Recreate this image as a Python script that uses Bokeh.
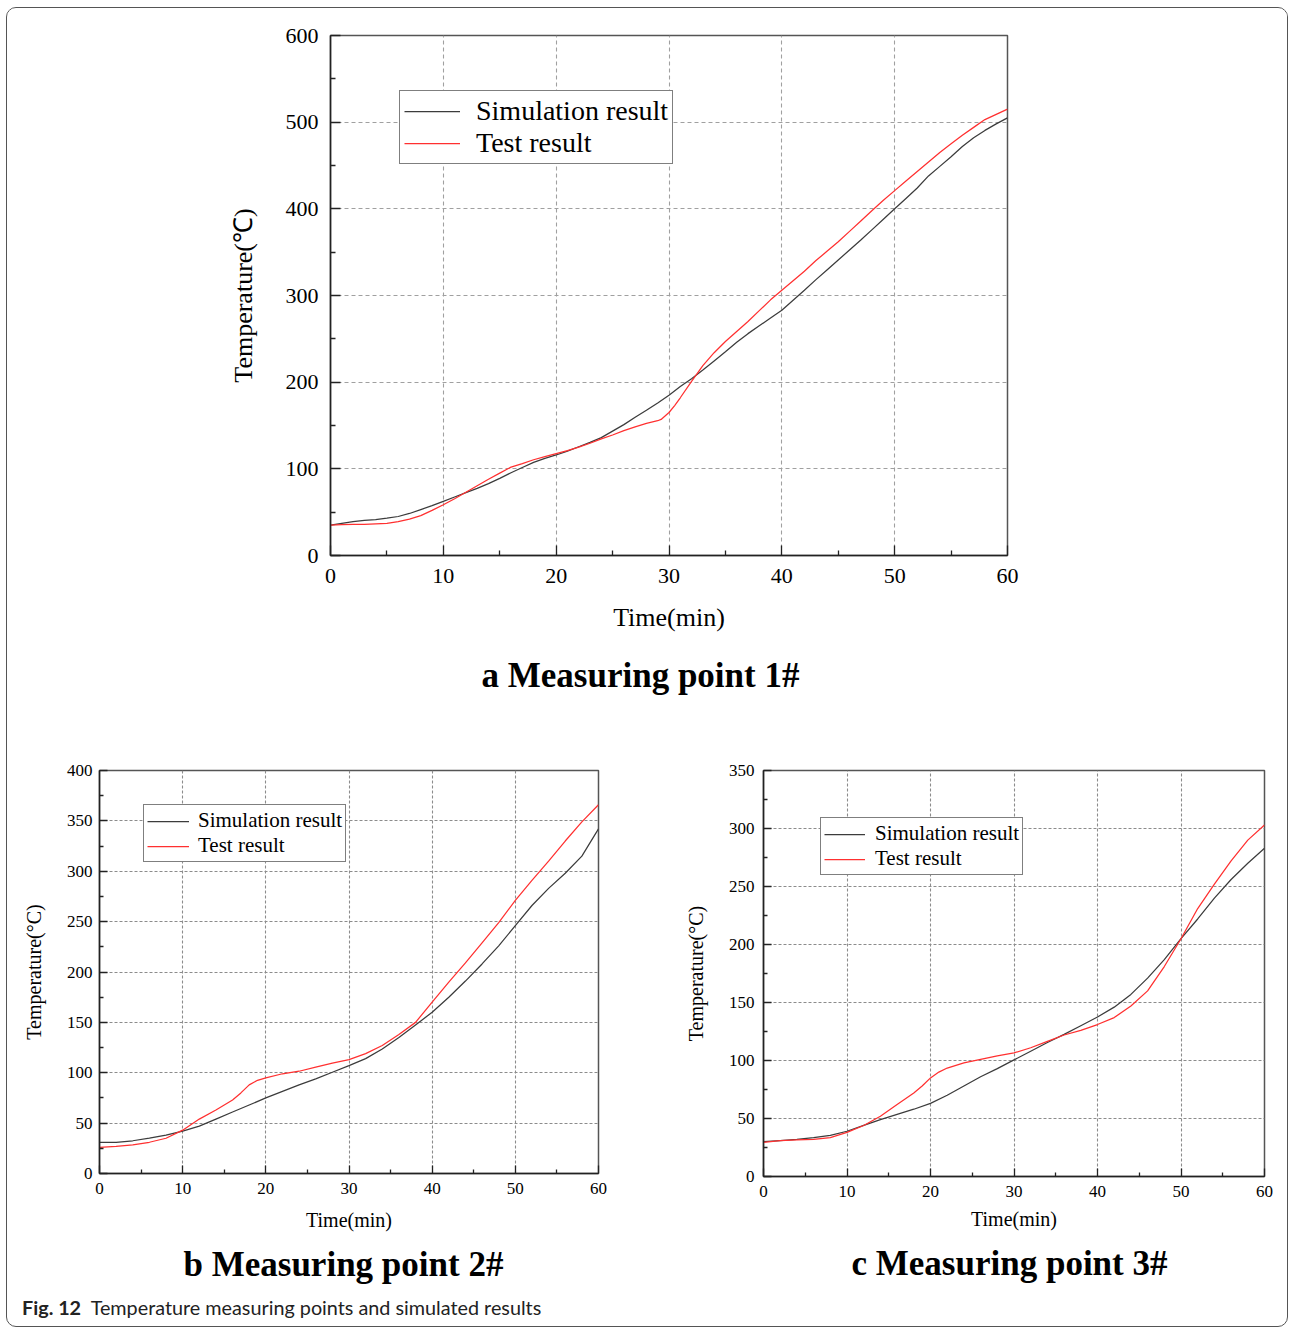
from bokeh.plotting import figure
from bokeh.models import FixedTicker, Legend, LegendItem, Div, Title, Range1d
from bokeh.layouts import column, row
from bokeh.embed import file_html
from bokeh.resources import INLINE

SERIF = "Liberation Serif"

# ---- Measuring point 1# ----
TIME_A_SIM = [0, 1, 2, 3, 4, 5, 6, 7, 8, 9, 10, 11, 12, 13, 14, 15, 16, 17, 18, 19, 20,
              21, 22, 23, 24, 25, 26, 27, 28, 29, 30, 31, 32, 33, 34, 35, 36, 37, 38, 39, 40,
              41, 42, 43, 44, 45, 46, 47, 48, 49, 50, 51, 52, 53, 54, 55, 56, 57, 58, 59, 60]
SIM_A = [35, 37, 39, 40.5, 41.5, 43, 45, 48.5, 53, 57.5, 62.5, 67.5, 72.5, 77.5, 83, 89, 95.5,
         101.5, 107.5, 112, 116, 120.5, 125.5, 130.5, 136, 143.5, 151, 159.5, 167.5, 176, 185,
         195, 204, 214, 224.5, 235, 246, 256, 265, 274, 283, 294.5, 306, 318, 329.5, 341,
         352.5, 364, 376, 388, 400, 412, 424, 438, 449, 460, 472, 482, 490.5, 498, 505]
TIME_A_TEST = [0, 1, 2, 3, 4, 5, 6, 7, 8, 9, 10, 11, 12, 13, 14, 15, 16, 17, 18, 19, 20,
               21, 22, 23, 24, 25, 26, 27, 28, 29, 29.3, 30, 30.5, 31, 32, 33, 34, 35, 36, 37,
               38, 39, 40, 41, 42, 43, 44, 45, 46, 47, 48, 49, 50, 51, 52, 53, 54, 55, 56, 57,
               58, 59, 60]
TEST_A = [35, 35.5, 36, 36, 36.5, 37, 39, 42, 46, 52, 58.5, 65.5, 73, 80.5, 88, 95, 102, 106,
          110.5, 114, 117.5, 121, 125, 129.5, 134.5, 139, 144, 148.5, 152.5, 155.5, 157, 165,
          173, 182, 201, 219, 234, 247, 258.5, 270, 282.5, 295, 306, 317, 328, 340, 351, 362,
          374, 386, 398, 410, 421, 432, 443, 454, 465, 475, 485, 494, 503, 509, 515]

# ---- Measuring point 2# ----
TIME_B_SIM = [0, 2, 4, 6, 8, 10, 12, 14, 16, 18, 20, 22, 24, 26, 28, 30, 32, 34, 36, 38, 40,
              42, 44, 46, 48, 50, 52, 54, 56, 58, 60]
SIM_B = [31, 31, 32.5, 35, 38, 42, 47, 54, 61, 68, 75, 81.5, 88, 94, 100.5, 107, 114, 123.5,
         135, 147.5, 160, 175, 191, 208, 226, 246, 266, 283, 298, 315, 342]
TIME_B_TEST = [0, 2, 4, 6, 8, 10, 12, 14, 16, 17, 18, 19, 20, 22, 24, 26, 28, 30, 32, 34, 36,
               38, 40, 42, 44, 46, 48, 50, 52, 54, 56, 58, 60]
TEST_B = [26, 27, 28.5, 31, 35, 43, 54, 63, 73, 80, 88, 92.5, 95, 99, 101.5, 105.5, 109.5,
          113, 119, 127, 138, 150, 170, 190, 209, 229, 249, 271, 291, 310, 330, 349, 366]

# ---- Measuring point 3# ----
TIME_C_SIM = [0, 2, 4, 6, 8, 10, 12, 14, 16, 18, 20, 22, 24, 26, 28, 30, 32, 34, 36, 38, 40,
              42, 44, 46, 48, 50, 52, 54, 56, 58, 60]
SIM_C = [30, 31, 32, 33.5, 35.5, 39, 44, 49, 53.5, 58, 63, 70, 78, 86, 93, 100.5, 108, 115.5,
         122.5, 130, 137.5, 146, 157, 171, 187, 205, 222, 240, 256, 270, 283]
TIME_C_TEST = [0, 2, 4, 6, 8, 10, 12, 14, 16, 18, 19, 20, 21, 22, 24, 26, 28, 30, 32, 34, 36,
               38, 40, 42, 44, 46, 48, 50, 52, 54, 56, 58, 60]
TEST_C = [29.5, 31, 31.5, 32, 33.5, 38, 44, 52, 62, 72, 78, 85, 90, 93.5, 98, 101, 104, 106.5,
          111, 116.5, 122, 126, 131, 137, 147, 160, 181, 205, 231, 252, 272, 290, 303]

X_TICKS = [0, 10, 20, 30, 40, 50, 60]
X_MINOR = [5, 15, 25, 35, 45, 55]
Y_TICKS_A = [0, 100, 200, 300, 400, 500, 600]
Y_MINOR_A = [50, 150, 250, 350, 450, 550]
Y_TICKS_B = [0, 50, 100, 150, 200, 250, 300, 350, 400]
Y_MINOR_B = [25, 75, 125, 175, 225, 275, 325, 375]
Y_TICKS_C = [0, 50, 100, 150, 200, 250, 300, 350]
Y_MINOR_C = [25, 75, 125, 175, 225, 275, 325]

SIM_COLOR = "#3c3c3c"
TEST_COLOR = "#ff3030"


def panel(cfg):
    p = figure(frame_width=cfg["fw"], frame_height=cfg["fh"],
               min_border_left=cfg["bl"], min_border_right=cfg["br"],
               min_border_top=cfg["bt"], min_border_bottom=cfg["bb"],
               x_range=Range1d(0, 60), y_range=Range1d(0, cfg["ymax"]),
               output_backend="svg", toolbar_location=None)
    p.background_fill_color = "white"
    p.border_fill_color = "white"
    p.outline_line_color = "#555555"
    p.outline_line_width = 1.5

    p.xaxis.ticker = FixedTicker(ticks=X_TICKS, minor_ticks=X_MINOR)
    p.yaxis.ticker = FixedTicker(ticks=cfg["yticks"], minor_ticks=cfg["yminor"])
    p.xaxis.axis_label = "Time(min)"
    p.yaxis.axis_label = cfg["ylabel"]
    for ax in (p.xaxis[0], p.yaxis[0]):
        ax.axis_line_color = "#222222"
        ax.axis_line_width = 1.5
        ax.major_tick_in = cfg["tick_in"]
        ax.major_tick_out = 0
        ax.minor_tick_in = cfg["tick_in"] // 2
        ax.minor_tick_out = 0
        ax.major_tick_line_color = "#222222"
        ax.minor_tick_line_color = "#222222"
        ax.major_tick_line_width = 1.3
        ax.minor_tick_line_width = 1.3
        ax.major_label_text_font = SERIF
        ax.major_label_text_font_size = cfg["tick_fs"]
        ax.major_label_text_color = "black"
        ax.axis_label_text_font = SERIF
        ax.axis_label_text_font_size = cfg["label_fs"]
        ax.axis_label_text_font_style = "normal"
        ax.axis_label_text_color = "black"
    p.xaxis.major_label_standoff = cfg["x_tick_so"]
    p.yaxis.major_label_standoff = cfg["y_tick_so"]
    p.xaxis.axis_label_standoff = cfg["x_label_so"]
    p.yaxis.axis_label_standoff = cfg["y_label_so"]

    for g in (p.xgrid[0], p.ygrid[0]):
        g.grid_line_color = cfg["grid_color"]
        g.grid_line_dash = cfg["grid_dash"]
        g.grid_line_width = 1.1

    r_sim = p.line(cfg["t_sim"], cfg["sim"], line_color=SIM_COLOR, line_width=1.25)
    r_test = p.line(cfg["t_test"], cfg["test"], line_color=TEST_COLOR, line_width=1.25)

    # legend anchored by its bottom-left corner, in pixels from the frame's bottom-left
    legend = Legend(items=[LegendItem(label="Simulation result", renderers=[r_sim]),
                           LegendItem(label="Test result", renderers=[r_test])],
                    location=cfg["leg_loc"])
    legend.margin = 0
    legend.padding = cfg["leg_pad"]
    legend.spacing = 0
    legend.glyph_width = cfg["leg_glyph"]
    legend.glyph_height = 14
    legend.label_height = cfg["leg_row"]
    legend.label_standoff = cfg["leg_so"]
    legend.label_text_font = SERIF
    legend.label_text_font_size = cfg["leg_fs"]
    legend.label_text_color = "black"
    legend.border_line_color = "black"
    legend.border_line_width = 1.2
    legend.background_fill_color = "white"
    legend.background_fill_alpha = 1
    p.add_layout(legend)

    title = Title(text=cfg["title"], align="left", text_font=SERIF,
                  text_font_size=cfg["title_fs"], text_font_style="bold",
                  text_color="black", standoff=cfg["title_so"], offset=cfg["title_dx"])
    p.add_layout(title, "below")
    return p


fig_a = panel(dict(fw=677, fh=522, bl=323, br=280, bt=27, bb=163, ymax=600,
                   yticks=Y_TICKS_A, yminor=Y_MINOR_A, ylabel="Temperature(\u2103)",
                   tick_in=10, tick_fs="22px", label_fs="26px", title_fs="35px",
                   x_tick_so=13, y_tick_so=12, x_label_so=17, y_label_so=25, title_so=38,
                   title_dx=151,
                   grid_color="#a0a0a0", grid_dash="4 3",
                   t_sim=TIME_A_SIM, sim=SIM_A, t_test=TIME_A_TEST, test=TEST_A,
                   leg_loc=(69, 391), leg_pad=4, leg_row=31, leg_glyph=56, leg_so=16,
                   leg_fs="28px", title="a Measuring point 1#"))

fig_b = panel(dict(fw=499, fh=403, bl=92, br=47, bt=50, bb=117, ymax=400,
                   yticks=Y_TICKS_B, yminor=Y_MINOR_B, ylabel="Temperature(\u00b0C)",
                   tick_in=8, tick_fs="17px", label_fs="20px", title_fs="35px",
                   x_tick_so=9, y_tick_so=7, x_label_so=12, y_label_so=19, title_so=19,
                   title_dx=84,
                   grid_color="#8c8c8c", grid_dash="3 2",
                   t_sim=TIME_B_SIM, sim=SIM_B, t_test=TIME_B_TEST, test=TEST_B,
                   leg_loc=(44, 311), leg_pad=3, leg_row=24, leg_glyph=42, leg_so=9,
                   leg_fs="21px", title="b Measuring point 2#"))

fig_c = panel(dict(fw=501, fh=406, bl=118, br=23, bt=52, bb=112, ymax=350,
                   yticks=Y_TICKS_C, yminor=Y_MINOR_C, ylabel="Temperature(\u00b0C)",
                   tick_in=8, tick_fs="17px", label_fs="20px", title_fs="35px",
                   x_tick_so=9, y_tick_so=9, x_label_so=8, y_label_so=19, title_so=19,
                   title_dx=88,
                   grid_color="#8c8c8c", grid_dash="3 2",
                   t_sim=TIME_C_SIM, sim=SIM_C, t_test=TIME_C_TEST, test=TEST_C,
                   leg_loc=(57, 301), leg_pad=3, leg_row=24, leg_glyph=41, leg_so=10,
                   leg_fs="21px", title="c Measuring point 3#"))

caption = Div(text="<b>Fig. 12</b>&nbsp; Temperature measuring points and simulated results",
              width=1265, height=34, margin=0,
              styles={"font-family": "Lato", "font-size": "19.8px", "color": "#222222",
                      "padding-left": "15px", "line-height": "30px"})

# rounded frame around the whole figure block
page = column(fig_a, row(fig_b, fig_c, spacing=0), caption, spacing=0,
              margin=(7, 0, 0, 6),
              styles={"border": "1.5px solid #555555", "border-radius": "10px",
                      "background-color": "white", "box-sizing": "content-box",
                      "width": "1280px", "height": "1318px", "overflow": "hidden"})

open("out.html", "w").write(file_html(page, INLINE))
